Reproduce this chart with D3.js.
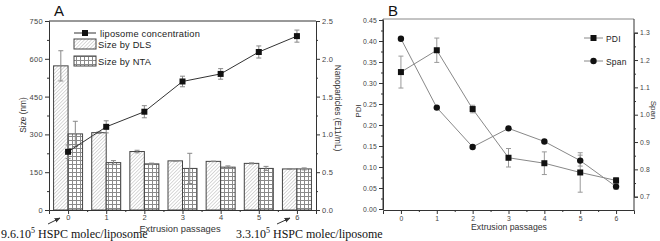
<!DOCTYPE html>
<html>
<head>
<meta charset="utf-8">
<script src="https://cdn.jsdelivr.net/npm/d3@7"></script>
<style>
  body { margin: 0; background: #fff; }
  svg { display: block; font-family: "Liberation Sans", Arial, sans-serif; }
  .tick-label { font-size: 7.5px; fill: #444; letter-spacing: 0.3px; }
  .panel-b .tick-label { font-size: 6.8px; letter-spacing: 0.2px; }
  .axis-title { font-size: 8.3px; fill: #333; }
  .legend-text { font-size: 9.3px; fill: #222; letter-spacing: 0.2px; }
  .note { font-family: "Liberation Serif", "Times New Roman", serif; font-size: 12px; fill: #111; }
</style>
</head>
<body>
<svg id="chart" width="660" height="241"></svg>
<script>
// data
const passages = [0, 1, 2, 3, 4, 5, 6];
const sizeDLS = [572, 307, 232, 195, 193, 185, 163];
const sizeDLSErr = [60, 3, 5, 1, 1, 2, 1];
const sizeNTA = [302, 188, 183, 165, 170, 165, 163];
const sizeNTAErr = [50, 8, 3, 60, 5, 8, 4];
const concentration = [0.77, 1.10, 1.30, 1.70, 1.80, 2.09, 2.30];
const concentrationErr = [0.09, 0.08, 0.08, 0.07, 0.07, 0.08, 0.08];
const pdi = [0.326, 0.378, 0.238, 0.122, 0.109, 0.087, 0.068];
const pdiErr = [0.038, 0.029, 0.009, 0.022, 0.027, 0.047, 0.007];
const span = [1.278, 1.026, 0.882, 0.950, 0.902, 0.832, 0.737];
const spanErr = [0, 0, 0, 0, 0, 0.02, 0.01];

const svg = d3.select('#chart');

// hatch patterns
const defs = svg.append('defs');
const diag = defs.append('pattern')
    .attr('id', 'hatchDLS')
    .attr('patternUnits', 'userSpaceOnUse')
    .attr('width', 2.5).attr('height', 2.5)
    .attr('patternTransform', 'rotate(45)');
diag.append('rect').attr('width', 2.5).attr('height', 2.5).attr('fill', '#fff');
diag.append('line').attr('x1', 0).attr('y1', 0).attr('x2', 0).attr('y2', 2.5)
    .attr('stroke', '#aaa').attr('stroke-width', 0.9);

const grid = defs.append('pattern')
    .attr('id', 'gridNTA')
    .attr('patternUnits', 'userSpaceOnUse')
    .attr('width', 4).attr('height', 4);
grid.append('rect').attr('width', 4).attr('height', 4).attr('fill', '#fff');
grid.append('path').attr('d', 'M0,0.5H4M0.5,0V4')
    .attr('stroke', '#8a8a8a').attr('stroke-width', 1).attr('fill', 'none');

defs.append('marker')
    .attr('id', 'arrow')
    .attr('viewBox', '0 0 10 10')
    .attr('refX', 9).attr('refY', 5)
    .attr('markerWidth', 6).attr('markerHeight', 6)
    .attr('orient', 'auto')
  .append('path').attr('d', 'M0,1L10,5L0,9Z').attr('fill', '#333');

// axis helper: major ticks with labels plus minor ticks
function drawAxis(g, scale, orient, majors, minors, fmt, pad = 2) {
  const ax = orient(scale).tickValues(majors).tickFormat(fmt).tickSize(4).tickPadding(pad);
  g.call(ax);
  g.select('.domain').attr('stroke', '#333');
  g.selectAll('.tick line').attr('stroke', '#333');
  g.selectAll('.tick text').attr('class', 'tick-label').attr('font-size', null).attr('fill', null)
      .attr('font-family', null);
  const minorAx = orient(scale).tickValues(minors).tickFormat('').tickSize(2);
  const mg = g.append('g').call(minorAx);
  mg.select('.domain').remove();
  mg.selectAll('.tick line').attr('stroke', '#333');
}

// ---------- Panel A ----------
const xA = d3.scaleLinear().domain([-0.5, 6.5]).range([49, 316]);
const yA = d3.scaleLinear().domain([0, 750]).range([210, 21]);
const yA2 = d3.scaleLinear().domain([0, 2.5]).range([210, 21]);
const barW = 14.5;

const gA = svg.append('g').attr('class', 'panel-a');

// bars
gA.selectAll('.bar-dls').data(passages).join('rect')
    .attr('class', 'bar-dls')
    .attr('x', d => xA(d) - barW)
    .attr('y', (d, i) => yA(sizeDLS[i]))
    .attr('width', barW)
    .attr('height', (d, i) => yA(0) - yA(sizeDLS[i]))
    .attr('fill', 'url(#hatchDLS)')
    .attr('stroke', '#444').attr('stroke-width', 1);

gA.selectAll('.bar-nta').data(passages).join('rect')
    .attr('class', 'bar-nta')
    .attr('x', d => xA(d))
    .attr('y', (d, i) => yA(sizeNTA[i]))
    .attr('width', barW)
    .attr('height', (d, i) => yA(0) - yA(sizeNTA[i]))
    .attr('fill', 'url(#gridNTA)')
    .attr('stroke', '#444').attr('stroke-width', 1);

function errorBars(g, xs, vals, errs, x, y, color) {
  xs.forEach((d, i) => {
    if (!errs[i]) return;
    const cx = x(d), y1 = y(vals[i] + errs[i]), y2 = y(vals[i] - errs[i]);
    g.append('path')
        .attr('d', `M${cx},${y1}V${y2}M${cx - 2.5},${y1}H${cx + 2.5}M${cx - 2.5},${y2}H${cx + 2.5}`)
        .attr('stroke', color).attr('stroke-width', 1).attr('fill', 'none');
  });
}

errorBars(gA, passages, sizeDLS, sizeDLSErr, d => xA(d) - barW / 2, yA, '#888');
errorBars(gA, passages, sizeNTA, sizeNTAErr, d => xA(d) + barW / 2, yA, '#888');

// concentration line
errorBars(gA, passages, concentration, concentrationErr, xA, yA2, '#888');
gA.append('path')
    .datum(passages)
    .attr('d', d3.line().x(d => xA(d)).y((d, i) => yA2(concentration[i])))
    .attr('fill', 'none').attr('stroke', '#333').attr('stroke-width', 1);
gA.selectAll('.pt-conc').data(passages).join('rect')
    .attr('class', 'pt-conc')
    .attr('x', d => xA(d) - 3)
    .attr('y', (d, i) => yA2(concentration[i]) - 3)
    .attr('width', 6).attr('height', 6)
    .attr('fill', '#111');

// frame and axes
gA.append('line').attr('x1', 49).attr('x2', 316).attr('y1', 21).attr('y2', 21)
    .attr('stroke', '#333');
drawAxis(gA.append('g').attr('transform', 'translate(49,0)'), yA, d3.axisLeft,
    d3.range(0, 751, 150), d3.range(75, 751, 150), d3.format('d'));
drawAxis(gA.append('g').attr('transform', 'translate(316,0)'), yA2, d3.axisRight,
    d3.range(0, 2.51, 0.5), d3.range(0.25, 2.5, 0.5), d3.format('.1f'));
drawAxis(gA.append('g').attr('transform', 'translate(0,210)'), xA, d3.axisBottom,
    passages, passages.slice(0, 6).map(d => d + 0.5), d3.format('d'), 1);

gA.append('text').attr('class', 'axis-title')
    .attr('transform', 'translate(26,115) rotate(-90)')
    .attr('text-anchor', 'middle').text('Size (nm)');
gA.append('text').attr('class', 'axis-title')
    .attr('transform', 'translate(335,108) rotate(90)')
    .attr('text-anchor', 'middle').text('Nanoparticles (E11/mL)');
gA.append('text').attr('class', 'axis-title')
    .attr('x', 180).attr('y', 231.5).style('font-size', '9.3px')
    .attr('text-anchor', 'middle').text('Extrusion passages');
gA.append('text').attr('x', 54).attr('y', 16)
    .attr('font-size', 15).attr('fill', '#111').text('A');

// legend A
const legA = gA.append('g');
legA.append('line').attr('x1', 74).attr('x2', 96).attr('y1', 33).attr('y2', 33).attr('stroke', '#333');
legA.append('rect').attr('x', 82).attr('y', 30).attr('width', 6).attr('height', 6).attr('fill', '#111');
legA.append('text').attr('class', 'legend-text').attr('x', 100).attr('y', 36.5).text('liposome concentration');
legA.append('rect').attr('x', 74).attr('y', 39).attr('width', 22).attr('height', 10)
    .attr('fill', 'url(#hatchDLS)').attr('stroke', '#444');
legA.append('text').attr('class', 'legend-text').attr('x', 98).attr('y', 47.5).text('Size by DLS');
legA.append('rect').attr('x', 74).attr('y', 56).attr('width', 22).attr('height', 10)
    .attr('fill', 'url(#gridNTA)').attr('stroke', '#444');
legA.append('text').attr('class', 'legend-text').attr('x', 98).attr('y', 64.5).text('Size by NTA');

// annotations
function note(x, y, base) {
  const t = svg.append('text').attr('class', 'note').attr('x', x).attr('y', y);
  t.append('tspan').text(base);
  t.append('tspan').attr('dy', -5).attr('font-size', 8).text('5');
  t.append('tspan').attr('dy', 5).text(' HSPC molec/liposome');
}
note(1, 238, '9.6.10');
note(236, 238, '3.3.10');
svg.append('line').attr('x1', 48).attr('y1', 224).attr('x2', 60).attr('y2', 218)
    .attr('stroke', '#333').attr('marker-end', 'url(#arrow)');
svg.append('line').attr('x1', 277).attr('y1', 224).attr('x2', 290).attr('y2', 218)
    .attr('stroke', '#333').attr('marker-end', 'url(#arrow)');

// ---------- Panel B ----------
const xB = d3.scaleLinear().domain([-0.5, 6.5]).range([383, 634]);
const yB = d3.scaleLinear().domain([0, 0.45]).range([209, 20]);
const yS = d3.scaleLinear().domain([0.7, 1.3]).range([196.7, 32.7]);
const gB = svg.append('g').attr('class', 'panel-b');

gB.append('line').attr('x1', 383).attr('x2', 634).attr('y1', 19).attr('y2', 19)
    .attr('stroke', '#888');

errorBars(gB, passages, pdi, pdiErr, xB, yB, '#999');
errorBars(gB, passages, span, spanErr, xB, yS, '#999');

gB.append('path').datum(passages)
    .attr('d', d3.line().x(d => xB(d)).y((d, i) => yB(pdi[i])))
    .attr('fill', 'none').attr('stroke', '#888').attr('stroke-width', 1);
gB.append('path').datum(passages)
    .attr('d', d3.line().x(d => xB(d)).y((d, i) => yS(span[i])))
    .attr('fill', 'none').attr('stroke', '#888').attr('stroke-width', 1);

gB.selectAll('.pt-pdi').data(passages).join('rect')
    .attr('class', 'pt-pdi')
    .attr('x', d => xB(d) - 3)
    .attr('y', (d, i) => yB(pdi[i]) - 3)
    .attr('width', 6).attr('height', 6).attr('fill', '#111');
gB.selectAll('.pt-span').data(passages).join('circle')
    .attr('class', 'pt-span')
    .attr('cx', d => xB(d))
    .attr('cy', (d, i) => yS(span[i]))
    .attr('r', 3.2).attr('fill', '#111');

drawAxis(gB.append('g').attr('transform', 'translate(383,0)'), yB, d3.axisLeft,
    d3.range(0, 0.451, 0.05), d3.range(0.025, 0.45, 0.05), d3.format('.2f'));
drawAxis(gB.append('g').attr('transform', 'translate(634,0)'), yS, d3.axisRight,
    d3.range(0.7, 1.31, 0.1), d3.range(0.65, 1.35, 0.1).filter(v => yS(v) >= 19 && yS(v) <= 210),
    d3.format('.1f'));
// extend side axes to the full frame height
gB.append('line').attr('x1', 634).attr('x2', 634).attr('y1', 19).attr('y2', 210).attr('stroke', '#333');
gB.append('line').attr('x1', 383).attr('x2', 383).attr('y1', 19).attr('y2', 210).attr('stroke', '#333');
drawAxis(gB.append('g').attr('transform', 'translate(0,210)'), xB, d3.axisBottom,
    passages, passages.slice(0, 6).map(d => d + 0.5), d3.format('d'));

gB.append('text').attr('class', 'axis-title')
    .attr('transform', 'translate(361,111) rotate(-90)')
    .style('font-size', '8px')
    .attr('text-anchor', 'middle').text('PDI');
gB.append('text').attr('class', 'axis-title')
    .attr('transform', 'translate(651,110) rotate(90)')
    .style('font-size', '8px')
    .attr('text-anchor', 'middle').text('Span');
gB.append('text').attr('class', 'axis-title')
    .attr('x', 509).attr('y', 230).style('font-size', '8.7px')
    .attr('text-anchor', 'middle').text('Extrusion passages');
gB.append('text').attr('x', 388).attr('y', 16)
    .attr('font-size', 15).attr('fill', '#111').text('B');

// legend B
const legB = gB.append('g');
legB.append('line').attr('x1', 584).attr('x2', 603).attr('y1', 38).attr('y2', 38).attr('stroke', '#888');
legB.append('rect').attr('x', 590.5).attr('y', 35).attr('width', 6).attr('height', 6).attr('fill', '#111');
legB.append('text').attr('class', 'legend-text').attr('x', 606).attr('y', 41.5).style('font-size', '8.5px').text('PDI');
legB.append('line').attr('x1', 584).attr('x2', 603).attr('y1', 61).attr('y2', 61).attr('stroke', '#888');
legB.append('circle').attr('cx', 593.5).attr('cy', 61).attr('r', 3.2).attr('fill', '#111');
legB.append('text').attr('class', 'legend-text').attr('x', 606).attr('y', 64.5).style('font-size', '8.5px').text('Span');
</script>
</body>
</html>
